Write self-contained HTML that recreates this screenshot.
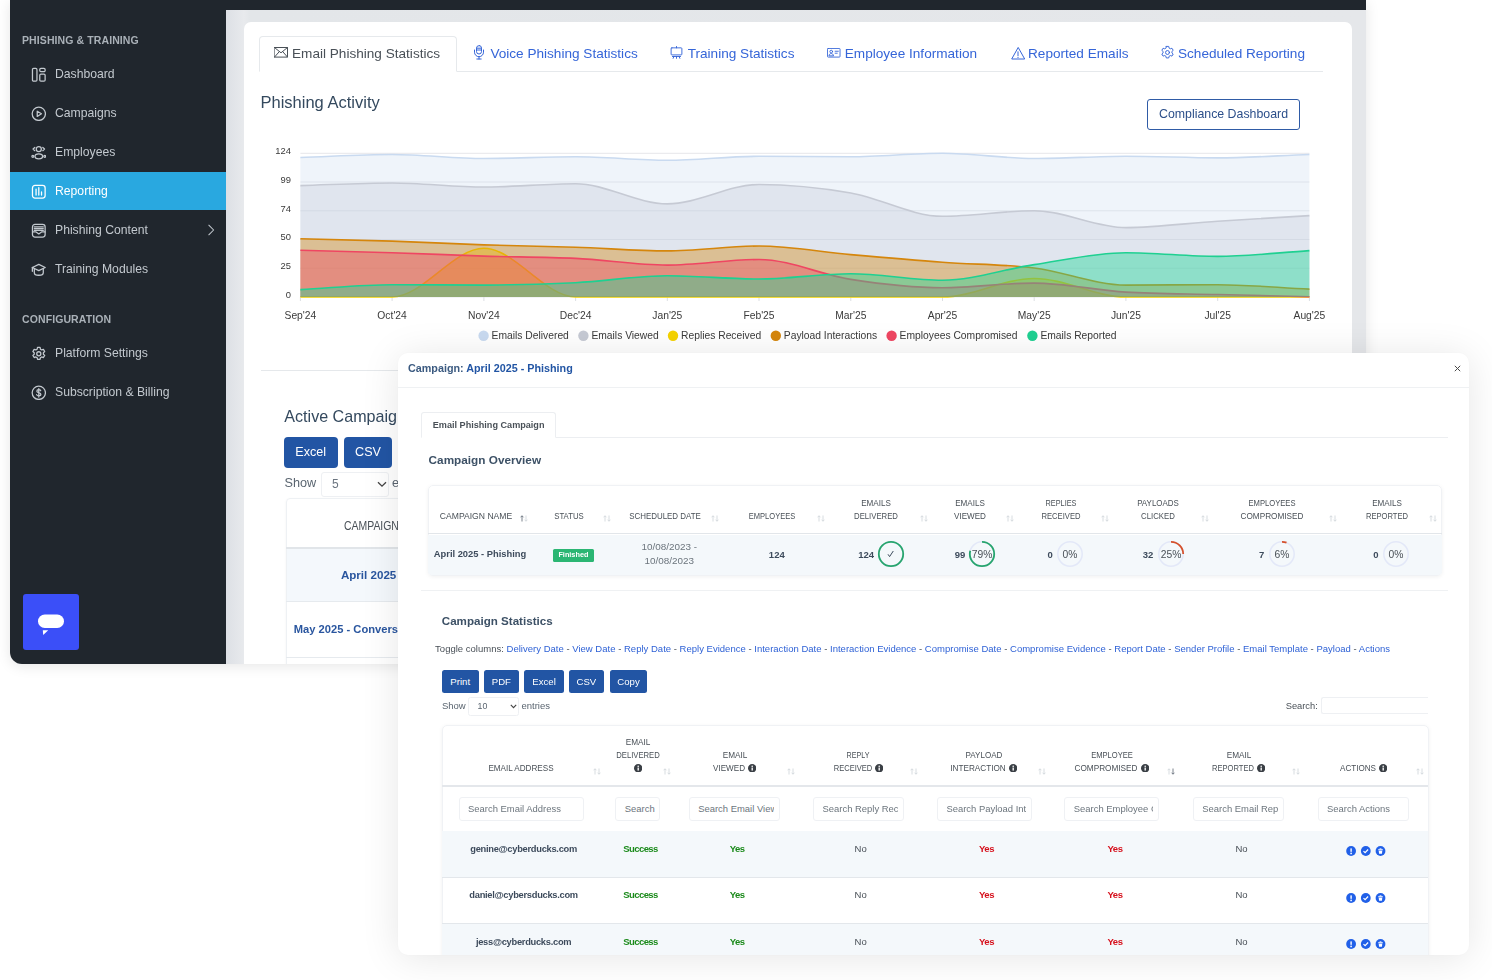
<!DOCTYPE html>
<html lang="en">
<head>
<meta charset="utf-8">
<title>Phishing Reporting</title>
<style>
*{box-sizing:border-box;margin:0;padding:0}
html,body{width:1492px;height:980px;overflow:hidden;background:#fff;font-family:"Liberation Sans",sans-serif;color:#34495e}
.abs{position:absolute}
#dash{position:absolute;left:10px;top:0;width:1356px;height:664px;background:linear-gradient(to right,#dde0e5 216px,#e8eaed 234px,#e3e6e9 240px,#e5e7ea 1356px);border-radius:0 0 0 12px;overflow:hidden;box-shadow:0 2px 14px rgba(0,0,0,.10)}
#topbar{position:absolute;left:0;top:0;width:1356px;height:10px;background:#20262d}
#side{will-change:transform;position:absolute;left:0;top:0;width:216px;height:664px;background:#20262d}
.sh{position:absolute;left:12px;font-size:10.5px;font-weight:700;color:#aab1b8;letter-spacing:.1px;white-space:nowrap}
.ni{position:absolute;left:0;width:216px;height:39px;color:#c3c9cf;font-size:12.2px;white-space:nowrap}
.ni span{position:absolute;left:45px;top:12px;line-height:15px}
.ni svg{position:absolute;left:20.9px;top:11.7px;width:15.6px;height:15.6px;fill:none;stroke:#c3c9cf;stroke-width:1.3;stroke-linecap:round;stroke-linejoin:round}
.ni.act{background:#29a8e0;color:#fff}
.ni.act svg{stroke:#fff}
#card{will-change:transform;position:absolute;left:234px;top:22px;width:1108px;height:660px;background:#fff;border-radius:7px 7px 0 0}
#modal{position:absolute;left:398px;top:353px;width:1071px;height:602px;background:#fff;border-radius:10px;box-shadow:0 3px 38px rgba(0,0,0,.10),0 0 3px rgba(0,0,0,.03);overflow:hidden}
</style>
</head>
<body>
<div id="dash">
  <div id="card">

    <style>
    .tab{position:absolute;top:23.8px;font-size:13.6px;line-height:16px;color:#3565d8;white-space:nowrap}
    .tab svg{position:absolute;top:1px;fill:none;stroke:#3565d8;stroke-width:1;stroke-linejoin:round;stroke-linecap:round}
    .bbtn{position:absolute;background:#2255a4;color:#fff;border-radius:3px;text-align:center;white-space:nowrap}
    </style>
    <div class="abs" style="left:15px;top:49px;width:1064px;height:1px;background:#e6e9ec"></div>
    <div class="abs" style="left:15px;top:13.5px;width:198px;height:36.5px;border:1px solid #e6e9ec;border-bottom:1px solid #fff;border-radius:4px 4px 0 0;background:#fff"></div>
    <div class="tab" style="left:48px;color:#495057">Email Phishing Statistics<svg style="left:-18px;top:1.2px;stroke:#495057" width="14" height="11" viewBox="0 0 14 11"><rect x=".5" y=".5" width="13" height="9.6"/><path d="M.5.5L7 5.8 13.500.5M.500 10.100L5.300 4.600M13.500 10.100L8.700 4.600"/></svg></div>
    <div class="tab" style="left:246.39999999999998px">Voice Phishing Statistics<svg style="left:-17px;top:-.5px" width="12" height="15" viewBox="0 0 12 15"><rect x="3.500" y=".6" width="5" height="8.400" rx="2.500"/><path d="M1.500 5v2.200a4.500 4.500 0 0 0 9 0V5M6 11.700v2.300M3.800 14h4.400M4 3.200h4M4 5h4"/></svg></div>
    <div class="tab" style="left:443.70000000000005px">Training Statistics<svg style="left:-17.300px;top:.3px" width="13" height="13" viewBox="0 0 14 14"><path d="M7 .5v1.500"/><rect x="1.200" y="2" width="11.600" height="7.600" rx=".8"/><path d="M2.600 11.300h8.800M4.200 11.300l-.8 2M9.800 11.300l.8 2M7 11.300v2"/></svg></div>
    <div class="tab" style="left:600.8px">Employee Information<svg style="left:-17.8px;top:1.9px" width="13.500" height="9.900" viewBox="0 0 15 11"><rect x=".5" y=".5" width="14" height="9.600" rx=".8"/><circle cx="4.700" cy="4" r="1.500"/><path d="M2.200 8.300c.3-1.500 1.300-2.100 2.500-2.100s2.200.6 2.500 2.100zM9 3.600h3.600M9 5.800h2.400"/></svg></div>
    <div class="tab" style="left:784px">Reported Emails<svg style="left:-17.500px;top:1px" width="14" height="13" viewBox="0 0 14 13"><path d="M7 .8L.7 12h12.600z"/><path d="M7 4.800v3.800M7 10.200v.4"/></svg></div>
    <div class="tab" style="left:934px">Scheduled Reporting<svg style="left:-18px;top:-.5px" width="15" height="15" viewBox="0 0 16 16" ><path d="M6.700 1.500h2.600l.4 1.800 1.300.75 1.750-.6 1.300 2.250-1.350 1.200v1.500l1.350 1.200-1.300 2.250-1.750-.6-1.300.75-.4 1.800H6.700l-.4-1.800-1.300-.75-1.750.6-1.300-2.250 1.350-1.200v-1.500L1.950 5.700l1.300-2.250 1.750.6 1.300-.75z"/><circle cx="8" cy="8" r="2.100"/></svg></div>
    <div class="abs" style="left:16.5px;top:70px;font-size:16.5px;line-height:20px;color:#34495e;white-space:nowrap">Phishing Activity</div>
    <div class="abs" style="left:903px;top:77px;width:153px;height:31px;border:1px solid #2f5ba6;border-radius:3px;font-size:12.35px;line-height:29px;text-align:center;color:#2c4f8a;white-space:nowrap">Compliance Dashboard</div>
<svg class="abs" style="left:0;top:0" width="1108" height="340" viewBox="0 0 1108 340" font-family="Liberation Sans, sans-serif">
<line x1="56.4" x2="1065.4" y1="275.0" y2="275.0" stroke="#e6e7ea" stroke-width="1"/>
<text x="46.9" y="275.9" font-size="9.4" fill="#3a3a3a" text-anchor="end">0</text>
<line x1="56.4" x2="1065.4" y1="246.3" y2="246.3" stroke="#e6e7ea" stroke-width="1"/>
<text x="46.9" y="247.2" font-size="9.4" fill="#3a3a3a" text-anchor="end">25</text>
<line x1="56.4" x2="1065.4" y1="217.5" y2="217.5" stroke="#e6e7ea" stroke-width="1"/>
<text x="46.9" y="218.4" font-size="9.4" fill="#3a3a3a" text-anchor="end">50</text>
<line x1="56.4" x2="1065.4" y1="188.8" y2="188.8" stroke="#e6e7ea" stroke-width="1"/>
<text x="46.9" y="189.7" font-size="9.4" fill="#3a3a3a" text-anchor="end">74</text>
<line x1="56.4" x2="1065.4" y1="160.0" y2="160.0" stroke="#e6e7ea" stroke-width="1"/>
<text x="46.9" y="160.9" font-size="9.4" fill="#3a3a3a" text-anchor="end">99</text>
<line x1="56.4" x2="1065.4" y1="131.3" y2="131.3" stroke="#e6e7ea" stroke-width="1"/>
<text x="46.9" y="132.2" font-size="9.4" fill="#3a3a3a" text-anchor="end">124</text>
<line x1="56.4" x2="56.4" y1="275.0" y2="279.0" stroke="#dcdfe3" stroke-width="1"/>
<text x="56.4" y="296.8" font-size="10.3" fill="#3a3a3a" text-anchor="middle">Sep'24</text>
<line x1="148.1" x2="148.1" y1="275.0" y2="279.0" stroke="#dcdfe3" stroke-width="1"/>
<text x="148.1" y="296.8" font-size="10.3" fill="#3a3a3a" text-anchor="middle">Oct'24</text>
<line x1="239.9" x2="239.9" y1="275.0" y2="279.0" stroke="#dcdfe3" stroke-width="1"/>
<text x="239.9" y="296.8" font-size="10.3" fill="#3a3a3a" text-anchor="middle">Nov'24</text>
<line x1="331.6" x2="331.6" y1="275.0" y2="279.0" stroke="#dcdfe3" stroke-width="1"/>
<text x="331.6" y="296.8" font-size="10.3" fill="#3a3a3a" text-anchor="middle">Dec'24</text>
<line x1="423.3" x2="423.3" y1="275.0" y2="279.0" stroke="#dcdfe3" stroke-width="1"/>
<text x="423.3" y="296.8" font-size="10.3" fill="#3a3a3a" text-anchor="middle">Jan'25</text>
<line x1="515.0" x2="515.0" y1="275.0" y2="279.0" stroke="#dcdfe3" stroke-width="1"/>
<text x="515.0" y="296.8" font-size="10.3" fill="#3a3a3a" text-anchor="middle">Feb'25</text>
<line x1="606.8" x2="606.8" y1="275.0" y2="279.0" stroke="#dcdfe3" stroke-width="1"/>
<text x="606.8" y="296.8" font-size="10.3" fill="#3a3a3a" text-anchor="middle">Mar'25</text>
<line x1="698.5" x2="698.5" y1="275.0" y2="279.0" stroke="#dcdfe3" stroke-width="1"/>
<text x="698.5" y="296.8" font-size="10.3" fill="#3a3a3a" text-anchor="middle">Apr'25</text>
<line x1="790.2" x2="790.2" y1="275.0" y2="279.0" stroke="#dcdfe3" stroke-width="1"/>
<text x="790.2" y="296.8" font-size="10.3" fill="#3a3a3a" text-anchor="middle">May'25</text>
<line x1="881.9" x2="881.9" y1="275.0" y2="279.0" stroke="#dcdfe3" stroke-width="1"/>
<text x="881.9" y="296.8" font-size="10.3" fill="#3a3a3a" text-anchor="middle">Jun'25</text>
<line x1="973.7" x2="973.7" y1="275.0" y2="279.0" stroke="#dcdfe3" stroke-width="1"/>
<text x="973.7" y="296.8" font-size="10.3" fill="#3a3a3a" text-anchor="middle">Jul'25</text>
<line x1="1065.4" x2="1065.4" y1="275.0" y2="279.0" stroke="#dcdfe3" stroke-width="1"/>
<text x="1065.4" y="296.8" font-size="10.3" fill="#3a3a3a" text-anchor="middle">Aug'25</text>
<path d="M56.4 135.5C87.0 134.5 117.6 132.5 148.1 132.5C178.7 132.5 209.3 136.5 239.9 136.5C270.4 136.5 301.0 134.8 331.6 134.8C362.2 134.8 392.7 138.3 423.3 138.3C453.9 138.3 484.5 134.3 515.0 134.3C545.6 134.3 576.2 134.8 606.8 134.8C637.3 134.8 667.9 131.3 698.5 131.3C729.1 131.3 759.6 136.5 790.2 136.5C820.8 136.5 851.4 134.2 881.9 134.2C912.5 134.2 943.1 135.9 973.7 135.9C1004.2 135.9 1034.8 133.6 1065.4 132.5L1065.4 275.0L56.4 275.0Z" fill="rgba(201,218,240,0.30)"/>
<path d="M56.4 135.5C87.0 134.5 117.6 132.5 148.1 132.5C178.7 132.5 209.3 136.5 239.9 136.5C270.4 136.5 301.0 134.8 331.6 134.8C362.2 134.8 392.7 138.3 423.3 138.3C453.9 138.3 484.5 134.3 515.0 134.3C545.6 134.3 576.2 134.8 606.8 134.8C637.3 134.8 667.9 131.3 698.5 131.3C729.1 131.3 759.6 136.5 790.2 136.5C820.8 136.5 851.4 134.2 881.9 134.2C912.5 134.2 943.1 135.9 973.7 135.9C1004.2 135.9 1034.8 133.6 1065.4 132.5" fill="none" stroke="#c9daf0" stroke-width="1.6"/>
<path d="M56.4 163.6C87.0 162.7 117.6 161.0 148.1 161.0C178.7 161.0 209.3 165.0 239.9 165.0C270.4 165.0 301.0 161.7 331.6 161.7C362.2 161.7 392.7 181.9 423.3 181.9C453.9 181.9 484.5 162.5 515.0 162.5C545.6 162.5 576.2 165.7 606.8 171.0C637.3 176.4 667.9 194.3 698.5 194.3C729.1 194.3 759.6 188.7 790.2 188.7C820.8 188.7 851.4 205.6 881.9 205.6C912.5 205.6 943.1 201.2 973.7 199.2C1004.2 197.2 1034.8 195.5 1065.4 193.6L1065.4 275.0L56.4 275.0Z" fill="rgba(196,203,216,0.36)"/>
<path d="M56.4 163.6C87.0 162.7 117.6 161.0 148.1 161.0C178.7 161.0 209.3 165.0 239.9 165.0C270.4 165.0 301.0 161.7 331.6 161.7C362.2 161.7 392.7 181.9 423.3 181.9C453.9 181.9 484.5 162.5 515.0 162.5C545.6 162.5 576.2 165.7 606.8 171.0C637.3 176.4 667.9 194.3 698.5 194.3C729.1 194.3 759.6 188.7 790.2 188.7C820.8 188.7 851.4 205.6 881.9 205.6C912.5 205.6 943.1 201.2 973.7 199.2C1004.2 197.2 1034.8 195.5 1065.4 193.6" fill="none" stroke="#c6cad4" stroke-width="1.6"/>
<path d="M56.4 275.0C87.0 275.0 117.6 275.0 148.1 275.0C178.7 275.0 209.3 226.3 239.9 226.3C270.4 226.3 301.0 275.0 331.6 275.0C362.2 275.0 392.7 275.0 423.3 275.0C453.9 275.0 484.5 275.0 515.0 275.0C545.6 275.0 576.2 275.0 606.8 275.0C637.3 275.0 667.9 275.0 698.5 275.0C729.1 275.0 759.6 256.5 790.2 256.5C820.8 256.5 851.4 275.0 881.9 275.0C912.5 275.0 943.1 275.0 973.7 275.0C1004.2 275.0 1034.8 275.0 1065.4 275.0L1065.4 275.0L56.4 275.0Z" fill="rgba(245,211,0,0.40)"/>
<path d="M56.4 275.0C87.0 275.0 117.6 275.0 148.1 275.0C178.7 275.0 209.3 226.3 239.9 226.3C270.4 226.3 301.0 275.0 331.6 275.0C362.2 275.0 392.7 275.0 423.3 275.0C453.9 275.0 484.5 275.0 515.0 275.0C545.6 275.0 576.2 275.0 606.8 275.0C637.3 275.0 667.9 275.0 698.5 275.0C729.1 275.0 759.6 256.5 790.2 256.5C820.8 256.5 851.4 275.0 881.9 275.0C912.5 275.0 943.1 275.0 973.7 275.0C1004.2 275.0 1034.8 275.0 1065.4 275.0" fill="none" stroke="#f5d300" stroke-width="1.6"/>
<path d="M56.4 216.8C87.0 217.6 117.6 218.1 148.1 219.1C178.7 220.1 209.3 221.8 239.9 222.9C270.4 223.9 301.0 224.2 331.6 225.2C362.2 226.2 392.7 228.9 423.3 228.9C453.9 228.9 484.5 224.0 515.0 224.0C545.6 224.0 576.2 229.9 606.8 232.6C637.3 235.3 667.9 238.0 698.5 240.2C729.1 242.5 759.6 242.2 790.2 246.0C820.8 249.8 851.4 263.1 881.9 263.1C912.5 263.1 943.1 262.7 973.7 262.7C1004.2 262.7 1034.8 265.7 1065.4 267.1L1065.4 275.0L56.4 275.0Z" fill="rgba(213,134,12,0.40)"/>
<path d="M56.4 216.8C87.0 217.6 117.6 218.1 148.1 219.1C178.7 220.1 209.3 221.8 239.9 222.9C270.4 223.9 301.0 224.2 331.6 225.2C362.2 226.2 392.7 228.9 423.3 228.9C453.9 228.9 484.5 224.0 515.0 224.0C545.6 224.0 576.2 229.9 606.8 232.6C637.3 235.3 667.9 238.0 698.5 240.2C729.1 242.5 759.6 242.2 790.2 246.0C820.8 249.8 851.4 263.1 881.9 263.1C912.5 263.1 943.1 262.7 973.7 262.7C1004.2 262.7 1034.8 265.7 1065.4 267.1" fill="none" stroke="#d5860c" stroke-width="1.6"/>
<path d="M56.4 228.2C87.0 229.0 117.6 229.7 148.1 230.7C178.7 231.7 209.3 233.1 239.9 234.1C270.4 235.0 301.0 234.9 331.6 236.4C362.2 237.9 392.7 243.1 423.3 243.1C453.9 243.1 484.5 237.5 515.0 237.5C545.6 237.5 576.2 252.7 606.8 257.4C637.3 262.1 667.9 265.7 698.5 265.7C729.1 265.7 759.6 261.1 790.2 261.1C820.8 261.1 851.4 268.2 881.9 270.1C912.5 272.0 943.1 271.7 973.7 272.5C1004.2 273.2 1034.8 273.9 1065.4 274.7L1065.4 275.0L56.4 275.0Z" fill="rgba(239,70,98,0.40)"/>
<path d="M56.4 228.2C87.0 229.0 117.6 229.7 148.1 230.7C178.7 231.7 209.3 233.1 239.9 234.1C270.4 235.0 301.0 234.9 331.6 236.4C362.2 237.9 392.7 243.1 423.3 243.1C453.9 243.1 484.5 237.5 515.0 237.5C545.6 237.5 576.2 252.7 606.8 257.4C637.3 262.1 667.9 265.7 698.5 265.7C729.1 265.7 759.6 261.1 790.2 261.1C820.8 261.1 851.4 268.2 881.9 270.1C912.5 272.0 943.1 271.7 973.7 272.5C1004.2 273.2 1034.8 273.9 1065.4 274.7" fill="none" stroke="#ef4662" stroke-width="1.6"/>
<path d="M56.4 267.6C87.0 266.0 117.6 262.7 148.1 262.7C178.7 262.7 209.3 263.1 239.9 263.1C270.4 263.1 301.0 262.3 331.6 260.7C362.2 259.2 392.7 253.7 423.3 253.7C453.9 253.7 484.5 257.0 515.0 257.0C545.6 257.0 576.2 251.8 606.8 251.8C637.3 251.8 667.9 258.2 698.5 258.2C729.1 258.2 759.6 247.1 790.2 242.6C820.8 238.0 851.4 230.7 881.9 230.7C912.5 230.7 943.1 234.4 973.7 234.4C1004.2 234.4 1034.8 230.6 1065.4 228.6L1065.4 275.0L56.4 275.0Z" fill="rgba(28,214,150,0.42)"/>
<path d="M56.4 267.6C87.0 266.0 117.6 262.7 148.1 262.7C178.7 262.7 209.3 263.1 239.9 263.1C270.4 263.1 301.0 262.3 331.6 260.7C362.2 259.2 392.7 253.7 423.3 253.7C453.9 253.7 484.5 257.0 515.0 257.0C545.6 257.0 576.2 251.8 606.8 251.8C637.3 251.8 667.9 258.2 698.5 258.2C729.1 258.2 759.6 247.1 790.2 242.6C820.8 238.0 851.4 230.7 881.9 230.7C912.5 230.7 943.1 234.4 973.7 234.4C1004.2 234.4 1034.8 230.6 1065.4 228.6" fill="none" stroke="#1fd091" stroke-width="1.6"/>
<circle cx="239.6" cy="313.7" r="5.2" fill="#c9daf0"/>
<text x="247.6" y="317.3" font-size="10.3" fill="#3a3a3a">Emails Delivered</text>
<circle cx="339.4" cy="313.7" r="5.2" fill="#c6cad4"/>
<text x="347.4" y="317.3" font-size="10.3" fill="#3a3a3a">Emails Viewed</text>
<circle cx="429.0" cy="313.7" r="5.2" fill="#f5d300"/>
<text x="437.0" y="317.3" font-size="10.3" fill="#3a3a3a">Replies Received</text>
<circle cx="531.8" cy="313.7" r="5.2" fill="#d5860c"/>
<text x="539.8" y="317.3" font-size="10.3" fill="#3a3a3a">Payload Interactions</text>
<circle cx="647.6" cy="313.7" r="5.2" fill="#ef4662"/>
<text x="655.6" y="317.3" font-size="10.3" fill="#3a3a3a">Employees Compromised</text>
<circle cx="788.4" cy="313.7" r="5.2" fill="#1fd091"/>
<text x="796.4" y="317.3" font-size="10.3" fill="#3a3a3a">Emails Reported</text>
</svg>
    <div class="abs" style="left:17px;top:348px;width:1062px;height:1px;background:#e5e8eb"></div>
    <div class="abs" style="left:40.30000000000001px;top:384.4px;font-size:16.1px;line-height:20px;color:#34495e;white-space:nowrap">Active Campaigns</div>
    <div class="bbtn" style="left:40px;top:415px;width:53.500px;height:30.500px;font-size:12.6px;line-height:30px;border-radius:4px">Excel</div>
    <div class="bbtn" style="left:100px;top:415px;width:48px;height:30.500px;font-size:12.6px;line-height:30px;border-radius:4px">CSV</div>
    <div class="abs" style="left:40.5px;top:453.3px;font-size:12.7px;line-height:16px;color:#5a6570">Show</div>
    <div class="abs" style="left:77px;top:449.5px;width:67.500px;height:25px;border:1px solid #eef0f3;border-radius:3px;font-size:12px;line-height:23px;color:#6b7580;padding-left:10px">5<svg class="abs" style="left:55px;top:8.500px" width="10" height="7" viewBox="0 0 10 7"><path d="M1 1.200l4 4 4-4" fill="none" stroke="#444" stroke-width="1.300"/></svg></div>
    <div class="abs" style="left:148px;top:453.3px;font-size:12.7px;line-height:16px;color:#5a6570">entries</div>
    <div class="abs" style="left:42px;top:476px;width:900px;height:170px;border:1px solid #eef1f4;border-radius:4px;box-shadow:0 1px 3px rgba(0,0,0,.05)"></div>
    <div class="abs" style="left:99.80000000000001px;top:496.79999999999995px;font-size:12px;line-height:15px;color:#495057;white-space:nowrap;transform:scaleX(.87);transform-origin:0 50%">CAMPAIGN NAME</div>
    <div class="abs" style="left:42px;top:525px;width:900px;height:1.500px;background:#e1e5e9"></div>
    <div class="abs" style="left:42.5px;top:526.5px;width:900px;height:52.500px;background:#f4f8fc"></div>
    <div class="abs" style="left:42px;top:579px;width:900px;height:1px;background:#e6eaee"></div>
    <div class="abs" style="left:42px;top:635px;width:900px;height:1px;background:#e6eaee"></div>
    <div class="abs" style="left:96.89999999999998px;top:545.4px;font-size:11.6px;font-weight:700;line-height:15px;color:#2a569f;white-space:nowrap">April 2025 - Phishing</div>
    <div class="abs" style="left:49.80000000000001px;top:599.9px;font-size:11.16px;font-weight:700;line-height:15px;color:#2a569f;white-space:nowrap">May 2025 - Conversation</div>
  </div>
  <div id="topbar"></div>
  <div id="side">

    <div class="sh" style="top:34px">PHISHING &amp; TRAINING</div>
    <div class="ni" style="top:55px"><svg viewBox="0 0 16 16"><rect x="1.5" y="1.5" width="4.6" height="13" rx="1.2"/><rect x="9" y="1.5" width="5.5" height="3.2" rx="1.2"/><rect x="9" y="7.3" width="5.5" height="7.2" rx="1.2"/></svg><span>Dashboard</span></div>
    <div class="ni" style="top:94px"><svg viewBox="0 0 16 16"><circle cx="8" cy="8" r="6.8"/><path d="M6.4 5.3v5.4l4.3-2.7z"/></svg><span>Campaigns</span></div>
    <div class="ni" style="top:133px"><svg viewBox="0 0 16 16"><circle cx="8" cy="4.2" r="2.6"/><ellipse cx="8" cy="11.6" rx="3.9" ry="2.6"/><path d="M3.9 2.6L2.1 4.2l1.8 1.6M12.1 2.6l1.8 1.6-1.8 1.6"/><circle cx="1.9" cy="11.6" r="1"/><circle cx="14.1" cy="11.6" r="1"/></svg><span>Employees</span></div>
    <div class="ni act" style="top:172px;height:38px"><svg viewBox="0 0 16 16"><rect x="1.5" y="1.5" width="13" height="13" rx="2.6"/><path d="M5.2 5.2v6.2M8 3.8v7.6M10.8 8.2v3.2"/></svg><span>Reporting</span></div>
    <div class="ni" style="top:211px"><svg viewBox="0 0 16 16"><rect x="1.5" y="1.5" width="13" height="13" rx="2.6"/><path d="M3.4 4h9.2M3.4 5.8h9.2M3.4 7.6h9.2M1.6 9.2h3.6l2.8 2 2.8-2h3.6"/></svg><span>Phishing Content</span><svg viewBox="0 0 16 16" style="left:194px;top:12px;width:14px;height:14px;stroke-width:1.2"><path d="M5.5 2.5L11 8l-5.500 5.500"/></svg></div>
    <div class="ni" style="top:250px"><svg viewBox="0 0 16 16"><path d="M8 2.400L1.400 5.600 8 8.800l6.600-3.200z"/><path d="M3.400 6.800v4.200c0 1.400 2.100 2.600 4.600 2.600s4.600-1.200 4.600-2.600V6.800"/><path d="M1.400 5.600v4"/></svg><span>Training Modules</span></div>
    <div class="sh" style="top:313px">CONFIGURATION</div>
    <div class="ni" style="top:334px"><svg viewBox="0 0 16 16"><path d="M6.700 1.500h2.600l.4 1.800 1.300.75 1.750-.6 1.300 2.250-1.350 1.200v1.500l1.350 1.200-1.300 2.250-1.750-.6-1.300.75-.4 1.800H6.700l-.4-1.800-1.300-.75-1.750.6-1.300-2.250 1.350-1.200v-1.500L1.950 5.700l1.300-2.250 1.750.6 1.300-.75z"/><circle cx="8" cy="8" r="2.100"/></svg><span>Platform Settings</span></div>
    <div class="ni" style="top:373px"><svg viewBox="0 0 16 16"><circle cx="8" cy="8" r="6.800"/><path d="M10 5.900c-.3-.7-1-1.100-2-1.100-1.200 0-2 .6-2 1.500 0 2.100 4.100 1 4.100 3.300 0 .9-.9 1.600-2.100 1.600-1.100 0-1.900-.5-2.200-1.300M8 3.600v8.800"/></svg><span>Subscription &amp; Billing</span></div>
    <div class="abs" style="left:13px;top:594px;width:56px;height:56px;background:#3b4ff8;border-radius:3px">
      <svg class="abs" style="left:0;top:0" width="56" height="56" viewBox="0 0 56 56"><rect x="15" y="20.500" width="26" height="13.500" rx="6.750" fill="#fff"/><path d="M19.800 36.300h5.400l-5 4.800z" fill="#fff"/></svg>
    </div>

  </div>
</div>
<div id="modal">
<style>
.t{position:absolute;white-space:nowrap}
.mb{position:absolute;background:#2255a4;color:#fff;border-radius:2.5px;text-align:center;white-space:nowrap;font-size:9.6px;line-height:23px;height:23px;top:317.2px}
.si{position:absolute;height:24px;border:1px solid #eff1f4;border-radius:3px;background:#fff;padding:0 5px 0 8.5px;top:443.5px}
.si i{display:block;font-style:normal;overflow:hidden;white-space:nowrap;font-size:9.45px;line-height:22px;color:#6c757d}
a{color:#2f62d6;text-decoration:none}
</style>
<div class="t" style="top:8.2px;font-size:10.77px;line-height:14px;color:#3d4b5c;font-weight:700;left:10px;"><span style="color:#3b5a80">Campaign:</span> <span style="color:#2255a4">April 2025 - Phishing</span></div>
<svg class="abs" style="left:1055.5px;top:11.5px" width="7" height="7" viewBox="0 0 7 7"><path d="M.800.800l5.400 5.400M6.200.800L.800 6.200" stroke="#4a4a4a" stroke-width="1" fill="none"/></svg>
<div class="abs" style="left:0px;top:34px;width:1071px;height:1px;background:#eff1f3"></div>
<div class="abs" style="left:23px;top:84px;width:1027px;height:1px;background:#eceef1"></div>
<div class="abs" style="left:23px;top:59px;width:135px;height:26px;border:1px solid #eceef1;border-bottom:1px solid #fff;border-radius:3px 3px 0 0;background:#fff"></div>
<div class="t" style="top:64.8px;font-size:9.1px;line-height:14px;color:#495057;font-weight:700;left:34.8px;">Email Phishing Campaign</div>
<div class="t" style="top:99.2px;font-size:11.78px;line-height:16px;color:#3d5166;font-weight:700;left:30.6px;">Campaign Overview</div>
<div class="abs" style="left:29.5px;top:132px;width:1014.5px;height:90.5px;border:1px solid #f0f2f5;border-radius:5px;box-shadow:0 1px 4px rgba(0,0,0,.06)"></div>
<div class="abs" style="left:30px;top:181.5px;width:1013.5px;height:40.5px;background:#f4f8fb;border-radius:0 0 4px 4px"></div>
<div class="abs" style="left:30px;top:179.8px;width:1013.5px;height:1.7px;background:#e2e6ea"></div>
<div class="t" style="top:156.3px;font-size:9.7px;line-height:14px;color:#495057;left:77.5px;transform:translateX(-50%) scaleX(0.887);">CAMPAIGN NAME</div>
<svg class="abs" style="left:121.7px;top:162.1px" width="8" height="7" viewBox="0 0 8 7" fill="none" stroke-width=".9"><path d="M2 6.500V.8M.500 2.300L2 .800l1.500 1.500" stroke="#6b7480"/><path d="M6 .500v5.700M4.500 4.700L6 6.200l1.500-1.500" stroke="#d3d8dd"/></svg>
<div class="t" style="top:156.3px;font-size:9.7px;line-height:14px;color:#495057;left:170.8px;transform:translateX(-50%) scaleX(0.805);">STATUS</div>
<svg class="abs" style="left:204.7px;top:162.1px" width="8" height="7" viewBox="0 0 8 7" fill="none" stroke-width=".9"><path d="M2 6.500V.8M.500 2.300L2 .800l1.500 1.500" stroke="#d3d8dd"/><path d="M6 .500v5.700M4.500 4.700L6 6.200l1.500-1.500" stroke="#d3d8dd"/></svg>
<div class="t" style="top:156.3px;font-size:9.7px;line-height:14px;color:#495057;left:266.5px;transform:translateX(-50%) scaleX(0.819);">SCHEDULED DATE</div>
<svg class="abs" style="left:313.3px;top:162.1px" width="8" height="7" viewBox="0 0 8 7" fill="none" stroke-width=".9"><path d="M2 6.500V.8M.500 2.300L2 .800l1.500 1.500" stroke="#d3d8dd"/><path d="M6 .500v5.700M4.500 4.700L6 6.200l1.500-1.500" stroke="#d3d8dd"/></svg>
<div class="t" style="top:156.3px;font-size:9.7px;line-height:14px;color:#495057;left:374px;transform:translateX(-50%) scaleX(0.776);">EMPLOYEES</div>
<svg class="abs" style="left:419.4px;top:162.1px" width="8" height="7" viewBox="0 0 8 7" fill="none" stroke-width=".9"><path d="M2 6.500V.8M.500 2.300L2 .800l1.500 1.500" stroke="#d3d8dd"/><path d="M6 .500v5.700M4.500 4.700L6 6.200l1.500-1.500" stroke="#d3d8dd"/></svg>
<div class="t" style="top:143px;font-size:9.7px;line-height:14px;color:#495057;left:478.3px;transform:translateX(-50%) scaleX(0.836);">EMAILS</div>
<div class="t" style="top:156.3px;font-size:9.7px;line-height:14px;color:#495057;left:478.3px;transform:translateX(-50%) scaleX(0.799);">DELIVERED</div>
<svg class="abs" style="left:522px;top:162.1px" width="8" height="7" viewBox="0 0 8 7" fill="none" stroke-width=".9"><path d="M2 6.500V.8M.500 2.300L2 .800l1.500 1.500" stroke="#d3d8dd"/><path d="M6 .500v5.700M4.500 4.700L6 6.200l1.500-1.500" stroke="#d3d8dd"/></svg>
<div class="t" style="top:143px;font-size:9.7px;line-height:14px;color:#495057;left:572.4px;transform:translateX(-50%) scaleX(0.836);">EMAILS</div>
<div class="t" style="top:156.3px;font-size:9.7px;line-height:14px;color:#495057;left:572.4px;transform:translateX(-50%) scaleX(0.835);">VIEWED</div>
<svg class="abs" style="left:607.6px;top:162.1px" width="8" height="7" viewBox="0 0 8 7" fill="none" stroke-width=".9"><path d="M2 6.500V.8M.500 2.300L2 .800l1.500 1.500" stroke="#d3d8dd"/><path d="M6 .500v5.700M4.500 4.700L6 6.200l1.500-1.500" stroke="#d3d8dd"/></svg>
<div class="t" style="top:143px;font-size:9.7px;line-height:14px;color:#495057;left:662.8px;transform:translateX(-50%) scaleX(0.755);">REPLIES</div>
<div class="t" style="top:156.3px;font-size:9.7px;line-height:14px;color:#495057;left:662.8px;transform:translateX(-50%) scaleX(0.789);">RECEIVED</div>
<svg class="abs" style="left:702.9px;top:162.1px" width="8" height="7" viewBox="0 0 8 7" fill="none" stroke-width=".9"><path d="M2 6.500V.8M.500 2.300L2 .800l1.500 1.500" stroke="#d3d8dd"/><path d="M6 .500v5.700M4.500 4.700L6 6.200l1.500-1.500" stroke="#d3d8dd"/></svg>
<div class="t" style="top:143px;font-size:9.7px;line-height:14px;color:#495057;left:760.3px;transform:translateX(-50%) scaleX(0.821);">PAYLOADS</div>
<div class="t" style="top:156.3px;font-size:9.7px;line-height:14px;color:#495057;left:760.3px;transform:translateX(-50%) scaleX(0.805);">CLICKED</div>
<svg class="abs" style="left:802.5px;top:162.1px" width="8" height="7" viewBox="0 0 8 7" fill="none" stroke-width=".9"><path d="M2 6.500V.8M.500 2.300L2 .800l1.500 1.500" stroke="#d3d8dd"/><path d="M6 .500v5.700M4.500 4.700L6 6.200l1.500-1.500" stroke="#d3d8dd"/></svg>
<div class="t" style="top:143px;font-size:9.7px;line-height:14px;color:#495057;left:874.2px;transform:translateX(-50%) scaleX(0.788);">EMPLOYEES</div>
<div class="t" style="top:156.3px;font-size:9.7px;line-height:14px;color:#495057;left:874.2px;transform:translateX(-50%) scaleX(0.848);">COMPROMISED</div>
<svg class="abs" style="left:930.9px;top:162.1px" width="8" height="7" viewBox="0 0 8 7" fill="none" stroke-width=".9"><path d="M2 6.500V.8M.500 2.300L2 .800l1.500 1.500" stroke="#d3d8dd"/><path d="M6 .500v5.700M4.500 4.700L6 6.200l1.500-1.500" stroke="#d3d8dd"/></svg>
<div class="t" style="top:143px;font-size:9.7px;line-height:14px;color:#495057;left:988.7px;transform:translateX(-50%) scaleX(0.836);">EMAILS</div>
<div class="t" style="top:156.3px;font-size:9.7px;line-height:14px;color:#495057;left:988.7px;transform:translateX(-50%) scaleX(0.783);">REPORTED</div>
<svg class="abs" style="left:1031px;top:162.1px" width="8" height="7" viewBox="0 0 8 7" fill="none" stroke-width=".9"><path d="M2 6.500V.8M.500 2.300L2 .800l1.500 1.500" stroke="#d3d8dd"/><path d="M6 .500v5.700M4.500 4.700L6 6.200l1.500-1.500" stroke="#d3d8dd"/></svg>
<div class="t" style="top:194.3px;font-size:9.36px;line-height:14px;color:#3d4b5c;font-weight:700;left:35.8px;">April 2025 - Phishing</div>
<div class="abs" style="left:155px;top:195.5px;width:40.7px;height:13.5px;background:#2bb673;border-radius:1.5px"></div>
<div class="t" style="top:197.3px;font-size:7.3px;line-height:10px;color:#fff;font-weight:700;left:175.4px;transform:translateX(-50%);">Finished</div>
<div class="t" style="top:186.9px;font-size:9.9px;line-height:14px;color:#6c757d;left:271.3px;transform:translateX(-50%);">10/08/2023 -</div>
<div class="t" style="top:201.3px;font-size:9.9px;line-height:14px;color:#6c757d;left:271.3px;transform:translateX(-50%);">10/08/2023</div>
<div class="t" style="top:195px;font-size:9.5px;line-height:14px;color:#3d4b5c;font-weight:700;left:378.8px;transform:translateX(-50%);">124</div>
<div class="t" style="top:195px;font-size:9.5px;line-height:14px;color:#3d4b5c;font-weight:700;right:595px;">124</div>
<svg class="abs" style="left:479px;top:186.6px" width="28" height="28" viewBox="0 0 28 28" font-family="Liberation Sans, sans-serif"><circle cx="14" cy="14" r="12.2" fill="none" stroke="#e3e8f8" stroke-width="1.500"/><circle cx="14" cy="14" r="12.2" fill="none" stroke="#27a56e" stroke-width="1.800" stroke-dasharray="76.65 76.65" transform="rotate(-90 14 14)"/><path d="M11 14.300l1.600 2.300 3.700-5.600" fill="none" stroke="#3d4b5c" stroke-width="1"/></svg>
<div class="t" style="top:195px;font-size:9.5px;line-height:14px;color:#3d4b5c;font-weight:700;right:503.7px;">99</div>
<svg class="abs" style="left:570.4px;top:186.6px" width="28" height="28" viewBox="0 0 28 28" font-family="Liberation Sans, sans-serif"><circle cx="14" cy="14" r="12.2" fill="none" stroke="#e3e8f8" stroke-width="1.500"/><circle cx="14" cy="14" r="12.2" fill="none" stroke="#27a56e" stroke-width="1.800" stroke-dasharray="60.56 76.65" transform="rotate(-90 14 14)"/><text x="14" y="17.700" font-size="10.300" fill="#495057" text-anchor="middle">79%</text></svg>
<div class="t" style="top:195px;font-size:9.5px;line-height:14px;color:#3d4b5c;font-weight:700;right:416.1px;">0</div>
<svg class="abs" style="left:657.9px;top:186.6px" width="28" height="28" viewBox="0 0 28 28" font-family="Liberation Sans, sans-serif"><circle cx="14" cy="14" r="12.2" fill="none" stroke="#e3e8f8" stroke-width="1.500"/><text x="14" y="17.700" font-size="10.300" fill="#495057" text-anchor="middle">0%</text></svg>
<div class="t" style="top:195px;font-size:9.5px;line-height:14px;color:#3d4b5c;font-weight:700;right:315.8px;">32</div>
<svg class="abs" style="left:758.8px;top:186.6px" width="28" height="28" viewBox="0 0 28 28" font-family="Liberation Sans, sans-serif"><circle cx="14" cy="14" r="12.2" fill="none" stroke="#e3e8f8" stroke-width="1.500"/><circle cx="14" cy="14" r="12.2" fill="none" stroke="#d5502b" stroke-width="1.800" stroke-dasharray="19.16 76.65" transform="rotate(-90 14 14)"/><text x="14" y="17.700" font-size="10.300" fill="#495057" text-anchor="middle">25%</text></svg>
<div class="t" style="top:195px;font-size:9.5px;line-height:14px;color:#3d4b5c;font-weight:700;right:204.8px;">7</div>
<svg class="abs" style="left:869.6px;top:186.6px" width="28" height="28" viewBox="0 0 28 28" font-family="Liberation Sans, sans-serif"><circle cx="14" cy="14" r="12.2" fill="none" stroke="#e3e8f8" stroke-width="1.500"/><circle cx="14" cy="14" r="12.2" fill="none" stroke="#d5502b" stroke-width="1.800" stroke-dasharray="4.60 76.65" transform="rotate(-90 14 14)"/><text x="14" y="17.700" font-size="10.300" fill="#495057" text-anchor="middle">6%</text></svg>
<div class="t" style="top:195px;font-size:9.5px;line-height:14px;color:#3d4b5c;font-weight:700;right:90.4px;">0</div>
<svg class="abs" style="left:983.9px;top:186.6px" width="28" height="28" viewBox="0 0 28 28" font-family="Liberation Sans, sans-serif"><circle cx="14" cy="14" r="12.2" fill="none" stroke="#e3e8f8" stroke-width="1.500"/><text x="14" y="17.700" font-size="10.300" fill="#495057" text-anchor="middle">0%</text></svg>
<div class="abs" style="left:23px;top:237px;width:1027px;height:1px;background:#eff1f3"></div>
<div class="t" style="top:260.1px;font-size:11.6px;line-height:16px;color:#3d5166;font-weight:700;left:43.8px;">Campaign Statistics</div>
<div class="t" style="top:289px;font-size:9.5px;line-height:14px;color:#495057;left:37.1px;letter-spacing:.012px;">Toggle columns: <a>Delivery Date</a> - <a>View Date</a> - <a>Reply Date</a> - <a>Reply Evidence</a> - <a>Interaction Date</a> - <a>Interaction Evidence</a> - <a>Compromise Date</a> - <a>Compromise Evidence</a> - <a>Report Date</a> - <a>Sender Profile</a> - <a>Email Template</a> - <a>Payload</a> - <a>Actions</a></div>
<div class="mb" style="left:43.9px;width:36.7px">Print</div>
<div class="mb" style="left:86.1px;width:34.5px">PDF</div>
<div class="mb" style="left:126.4px;width:39.4px">Excel</div>
<div class="mb" style="left:171px;width:34.8px">CSV</div>
<div class="mb" style="left:211.6px;width:37.9px">Copy</div>
<div class="t" style="top:346.2px;font-size:9.5px;line-height:14px;color:#5a6570;left:43.9px;">Show</div>
<div class="abs" style="left:70.4px;top:343.5px;width:50.2px;height:19px;border:1px solid #eef0f3;border-radius:2.5px"></div>
<div class="t" style="top:346.2px;font-size:8.8px;line-height:14px;color:#5a6570;left:79.6px;">10</div>
<svg class="abs" style="left:112.2px;top:351px" width="7" height="5" viewBox="0 0 7 5"><path d="M.800.800L3.500 3.600 6.200.800" fill="none" stroke="#444" stroke-width="1.100"/></svg>
<div class="t" style="top:346.2px;font-size:9.5px;line-height:14px;color:#5a6570;left:123.5px;">entries</div>
<div class="t" style="top:345.7px;font-size:9.3px;line-height:14px;color:#495057;left:887.7px;">Search:</div>
<div class="abs" style="left:922.7px;top:343.8px;width:107.3px;height:17.5px;border:1px solid #eef0f3;border-right:0;border-radius:2.5px 0 0 2.5px"></div>
<div class="abs" style="left:43.5px;top:371.5px;width:987px;height:240px;border:1px solid #f0f2f5;border-radius:5px;box-shadow:0 1px 4px rgba(0,0,0,.06)"></div>
<div class="abs" style="left:44px;top:431.8px;width:986px;height:1.8px;background:#e4e7eb"></div>
<div class="t" style="top:408.1px;font-size:9.7px;line-height:14px;color:#495057;left:123px;transform:translateX(-50%) scaleX(0.839);">EMAIL ADDRESS</div>
<svg class="abs" style="left:195.4px;top:414.7px" width="8" height="7" viewBox="0 0 8 7" fill="none" stroke-width=".9"><path d="M2 6.500V.8M.500 2.300L2 .800l1.500 1.500" stroke="#d3d8dd"/><path d="M6 .500v5.700M4.500 4.700L6 6.200l1.500-1.500" stroke="#d3d8dd"/></svg>
<div class="t" style="top:382.3px;font-size:9.7px;line-height:14px;color:#495057;left:239.9px;transform:translateX(-50%) scaleX(0.849);">EMAIL</div>
<div class="t" style="top:394.8px;font-size:9.7px;line-height:14px;color:#495057;left:240px;transform:translateX(-50%) scaleX(0.792);">DELIVERED</div>
<svg class="abs" style="left:235.8px;top:410.9px" width="8.400" height="8.400" viewBox="0 0 10 10"><circle cx="5" cy="5" r="5" fill="#3a3f45"/><rect x="4.200" y="4.200" width="1.600" height="3.600" fill="#fff"/><circle cx="5" cy="2.700" r=".95" fill="#fff"/></svg>
<svg class="abs" style="left:265.4px;top:414.7px" width="8" height="7" viewBox="0 0 8 7" fill="none" stroke-width=".9"><path d="M2 6.500V.8M.500 2.300L2 .800l1.500 1.500" stroke="#d3d8dd"/><path d="M6 .500v5.700M4.500 4.700L6 6.200l1.500-1.500" stroke="#d3d8dd"/></svg>
<div class="t" style="top:394.8px;font-size:9.7px;line-height:14px;color:#495057;left:336.7px;transform:translateX(-50%) scaleX(0.849);">EMAIL</div>
<div class="t" style="top:408.1px;font-size:9.7px;line-height:14px;color:#495057;left:331px;transform:translateX(-50%) scaleX(0.837);">VIEWED</div>
<svg class="abs" style="left:349.7px;top:410.9px" width="8.400" height="8.400" viewBox="0 0 10 10"><circle cx="5" cy="5" r="5" fill="#3a3f45"/><rect x="4.200" y="4.200" width="1.600" height="3.600" fill="#fff"/><circle cx="5" cy="2.700" r=".95" fill="#fff"/></svg>
<svg class="abs" style="left:388.8px;top:414.7px" width="8" height="7" viewBox="0 0 8 7" fill="none" stroke-width=".9"><path d="M2 6.500V.8M.500 2.300L2 .800l1.500 1.500" stroke="#d3d8dd"/><path d="M6 .500v5.700M4.500 4.700L6 6.200l1.500-1.500" stroke="#d3d8dd"/></svg>
<div class="t" style="top:394.8px;font-size:9.7px;line-height:14px;color:#495057;left:460.3px;transform:translateX(-50%) scaleX(0.737);">REPLY</div>
<div class="t" style="top:408.1px;font-size:9.7px;line-height:14px;color:#495057;left:454.9px;transform:translateX(-50%) scaleX(0.779);">RECEIVED</div>
<svg class="abs" style="left:476.7px;top:410.9px" width="8.400" height="8.400" viewBox="0 0 10 10"><circle cx="5" cy="5" r="5" fill="#3a3f45"/><rect x="4.200" y="4.200" width="1.600" height="3.600" fill="#fff"/><circle cx="5" cy="2.700" r=".95" fill="#fff"/></svg>
<svg class="abs" style="left:512.3px;top:414.7px" width="8" height="7" viewBox="0 0 8 7" fill="none" stroke-width=".9"><path d="M2 6.500V.8M.500 2.300L2 .800l1.500 1.500" stroke="#d3d8dd"/><path d="M6 .500v5.700M4.500 4.700L6 6.200l1.500-1.500" stroke="#d3d8dd"/></svg>
<div class="t" style="top:394.8px;font-size:9.7px;line-height:14px;color:#495057;left:585.8px;transform:translateX(-50%) scaleX(0.832);">PAYLOAD</div>
<div class="t" style="top:408.1px;font-size:9.7px;line-height:14px;color:#495057;left:580.3px;transform:translateX(-50%) scaleX(0.845);">INTERACTION</div>
<svg class="abs" style="left:610.7px;top:410.9px" width="8.400" height="8.400" viewBox="0 0 10 10"><circle cx="5" cy="5" r="5" fill="#3a3f45"/><rect x="4.200" y="4.200" width="1.600" height="3.600" fill="#fff"/><circle cx="5" cy="2.700" r=".95" fill="#fff"/></svg>
<svg class="abs" style="left:639.7px;top:414.7px" width="8" height="7" viewBox="0 0 8 7" fill="none" stroke-width=".9"><path d="M2 6.500V.8M.500 2.300L2 .800l1.500 1.500" stroke="#d3d8dd"/><path d="M6 .500v5.700M4.500 4.700L6 6.200l1.500-1.500" stroke="#d3d8dd"/></svg>
<div class="t" style="top:394.8px;font-size:9.7px;line-height:14px;color:#495057;left:714.2px;transform:translateX(-50%) scaleX(0.782);">EMPLOYEE</div>
<div class="t" style="top:408.1px;font-size:9.7px;line-height:14px;color:#495057;left:708.4px;transform:translateX(-50%) scaleX(0.848);">COMPROMISED</div>
<svg class="abs" style="left:742.8px;top:410.9px" width="8.400" height="8.400" viewBox="0 0 10 10"><circle cx="5" cy="5" r="5" fill="#3a3f45"/><rect x="4.200" y="4.200" width="1.600" height="3.600" fill="#fff"/><circle cx="5" cy="2.700" r=".95" fill="#fff"/></svg>
<svg class="abs" style="left:769.2px;top:414.7px" width="8" height="7" viewBox="0 0 8 7" fill="none" stroke-width=".9"><path d="M2 6.500V.8M.500 2.300L2 .800l1.500 1.500" stroke="#d3d8dd"/><path d="M6 .500v5.700M4.500 4.700L6 6.200l1.500-1.500" stroke="#6b7480"/></svg>
<div class="t" style="top:394.8px;font-size:9.7px;line-height:14px;color:#495057;left:841.1px;transform:translateX(-50%) scaleX(0.849);">EMAIL</div>
<div class="t" style="top:408.1px;font-size:9.7px;line-height:14px;color:#495057;left:835.2px;transform:translateX(-50%) scaleX(0.779);">REPORTED</div>
<svg class="abs" style="left:859.1px;top:410.9px" width="8.400" height="8.400" viewBox="0 0 10 10"><circle cx="5" cy="5" r="5" fill="#3a3f45"/><rect x="4.200" y="4.200" width="1.600" height="3.600" fill="#fff"/><circle cx="5" cy="2.700" r=".95" fill="#fff"/></svg>
<svg class="abs" style="left:893.7px;top:414.7px" width="8" height="7" viewBox="0 0 8 7" fill="none" stroke-width=".9"><path d="M2 6.500V.8M.500 2.300L2 .800l1.500 1.500" stroke="#d3d8dd"/><path d="M6 .500v5.700M4.500 4.700L6 6.200l1.500-1.500" stroke="#d3d8dd"/></svg>
<div class="t" style="top:408.1px;font-size:9.7px;line-height:14px;color:#495057;left:959.7px;transform:translateX(-50%) scaleX(0.836);">ACTIONS</div>
<svg class="abs" style="left:980.7px;top:410.9px" width="8.400" height="8.400" viewBox="0 0 10 10"><circle cx="5" cy="5" r="5" fill="#3a3f45"/><rect x="4.200" y="4.200" width="1.600" height="3.600" fill="#fff"/><circle cx="5" cy="2.700" r=".95" fill="#fff"/></svg>
<svg class="abs" style="left:1017.7px;top:414.7px" width="8" height="7" viewBox="0 0 8 7" fill="none" stroke-width=".9"><path d="M2 6.500V.8M.500 2.300L2 .800l1.500 1.500" stroke="#d3d8dd"/><path d="M6 .500v5.700M4.500 4.700L6 6.200l1.500-1.500" stroke="#d3d8dd"/></svg>
<div class="si" style="left:60.5px;width:125.2px"><i>Search Email Address</i></div>
<div class="si" style="left:217.3px;width:45.2px"><i style="overflow:visible">Search</i></div>
<div class="si" style="left:290.7px;width:91.3px"><i>Search Email Viewed</i></div>
<div class="si" style="left:415px;width:90.5px"><i>Search Reply Received</i></div>
<div class="si" style="left:538.9px;width:94.8px"><i>Search Payload Interaction</i></div>
<div class="si" style="left:666.3px;width:95.2px"><i>Search Employee Compromised</i></div>
<div class="si" style="left:794.8px;width:91.7px"><i>Search Email Reported</i></div>
<div class="si" style="left:919.5px;width:91px"><i>Search Actions</i></div>
<div class="abs" style="left:44px;top:478px;width:986px;height:46px;background:#f4f8fb"></div>
<div class="t" style="top:488.6px;font-size:9.3px;line-height:14px;color:#3d4b5c;font-weight:700;left:125.6px;transform:translateX(-50%);letter-spacing:-.27px;">genine@cyberducks.com</div>
<div class="t" style="top:488.6px;font-size:9.5px;line-height:14px;color:#1a8a1a;font-weight:700;left:242.5px;transform:translateX(-50%);letter-spacing:-.6px;">Success</div>
<div class="t" style="top:488.6px;font-size:9.5px;line-height:14px;color:#1a8a1a;font-weight:700;left:339.1px;transform:translateX(-50%);letter-spacing:-.5px;">Yes</div>
<div class="t" style="top:488.6px;font-size:9.5px;line-height:14px;color:#495057;left:462.7px;transform:translateX(-50%);">No</div>
<div class="t" style="top:488.6px;font-size:9.5px;line-height:14px;color:#d6101c;font-weight:700;left:588.5px;transform:translateX(-50%);letter-spacing:-.5px;">Yes</div>
<div class="t" style="top:488.6px;font-size:9.5px;line-height:14px;color:#d6101c;font-weight:700;left:717px;transform:translateX(-50%);letter-spacing:-.5px;">Yes</div>
<div class="t" style="top:488.6px;font-size:9.5px;line-height:14px;color:#495057;left:843.5px;transform:translateX(-50%);">No</div>
<svg class="abs" style="left:948px;top:492.8px" width="40" height="10" viewBox="0 0 40 10"><circle cx="5.100" cy="5" r="4.900" fill="#2160e8"/><rect x="4.400" y="2.200" width="1.400" height="3.700" rx=".6" fill="#fff"/><circle cx="5.100" cy="7.400" r=".85" fill="#fff"/><circle cx="19.800" cy="5" r="4.900" fill="#2160e8"/><path d="M17.500 5.100l1.600 1.600 3-3.200" fill="none" stroke="#fff" stroke-width="1.200"/><circle cx="34.500" cy="5" r="4.900" fill="#2160e8"/><path d="M32.200 3.300h4.600v.9h-4.600zM32.700 4.700h3.600l-.35 3.100h-2.900z" fill="#fff"/><rect x="33.600" y="2.400" width="1.800" height=".8" fill="#fff"/></svg>
<div class="abs" style="left:44px;top:524px;width:986px;height:1px;background:#e3e7eb"></div>
<div class="t" style="top:535.2px;font-size:9.3px;line-height:14px;color:#3d4b5c;font-weight:700;left:125.6px;transform:translateX(-50%);letter-spacing:-.27px;">daniel@cybersducks.com</div>
<div class="t" style="top:535.2px;font-size:9.5px;line-height:14px;color:#1a8a1a;font-weight:700;left:242.5px;transform:translateX(-50%);letter-spacing:-.6px;">Success</div>
<div class="t" style="top:535.2px;font-size:9.5px;line-height:14px;color:#1a8a1a;font-weight:700;left:339.1px;transform:translateX(-50%);letter-spacing:-.5px;">Yes</div>
<div class="t" style="top:535.2px;font-size:9.5px;line-height:14px;color:#495057;left:462.7px;transform:translateX(-50%);">No</div>
<div class="t" style="top:535.2px;font-size:9.5px;line-height:14px;color:#d6101c;font-weight:700;left:588.5px;transform:translateX(-50%);letter-spacing:-.5px;">Yes</div>
<div class="t" style="top:535.2px;font-size:9.5px;line-height:14px;color:#d6101c;font-weight:700;left:717px;transform:translateX(-50%);letter-spacing:-.5px;">Yes</div>
<div class="t" style="top:535.2px;font-size:9.5px;line-height:14px;color:#495057;left:843.5px;transform:translateX(-50%);">No</div>
<svg class="abs" style="left:948px;top:539.5px" width="40" height="10" viewBox="0 0 40 10"><circle cx="5.100" cy="5" r="4.900" fill="#2160e8"/><rect x="4.400" y="2.200" width="1.400" height="3.700" rx=".6" fill="#fff"/><circle cx="5.100" cy="7.400" r=".85" fill="#fff"/><circle cx="19.800" cy="5" r="4.900" fill="#2160e8"/><path d="M17.500 5.100l1.600 1.600 3-3.200" fill="none" stroke="#fff" stroke-width="1.200"/><circle cx="34.500" cy="5" r="4.900" fill="#2160e8"/><path d="M32.200 3.300h4.600v.9h-4.600zM32.700 4.700h3.600l-.35 3.100h-2.900z" fill="#fff"/><rect x="33.600" y="2.400" width="1.800" height=".8" fill="#fff"/></svg>
<div class="abs" style="left:44px;top:570px;width:986px;height:40px;background:#f4f8fb"></div>
<div class="abs" style="left:44px;top:570px;width:986px;height:1px;background:#e3e7eb"></div>
<div class="t" style="top:581.6px;font-size:9.3px;line-height:14px;color:#3d4b5c;font-weight:700;left:125.6px;transform:translateX(-50%);letter-spacing:-.27px;">jess@cyberducks.com</div>
<div class="t" style="top:581.6px;font-size:9.5px;line-height:14px;color:#1a8a1a;font-weight:700;left:242.5px;transform:translateX(-50%);letter-spacing:-.6px;">Success</div>
<div class="t" style="top:581.6px;font-size:9.5px;line-height:14px;color:#1a8a1a;font-weight:700;left:339.1px;transform:translateX(-50%);letter-spacing:-.5px;">Yes</div>
<div class="t" style="top:581.6px;font-size:9.5px;line-height:14px;color:#495057;left:462.7px;transform:translateX(-50%);">No</div>
<div class="t" style="top:581.6px;font-size:9.5px;line-height:14px;color:#d6101c;font-weight:700;left:588.5px;transform:translateX(-50%);letter-spacing:-.5px;">Yes</div>
<div class="t" style="top:581.6px;font-size:9.5px;line-height:14px;color:#d6101c;font-weight:700;left:717px;transform:translateX(-50%);letter-spacing:-.5px;">Yes</div>
<div class="t" style="top:581.6px;font-size:9.5px;line-height:14px;color:#495057;left:843.5px;transform:translateX(-50%);">No</div>
<svg class="abs" style="left:948px;top:585.5px" width="40" height="10" viewBox="0 0 40 10"><circle cx="5.100" cy="5" r="4.900" fill="#2160e8"/><rect x="4.400" y="2.200" width="1.400" height="3.700" rx=".6" fill="#fff"/><circle cx="5.100" cy="7.400" r=".85" fill="#fff"/><circle cx="19.800" cy="5" r="4.900" fill="#2160e8"/><path d="M17.500 5.100l1.600 1.600 3-3.200" fill="none" stroke="#fff" stroke-width="1.200"/><circle cx="34.500" cy="5" r="4.900" fill="#2160e8"/><path d="M32.200 3.300h4.600v.9h-4.600zM32.700 4.700h3.600l-.35 3.100h-2.900z" fill="#fff"/><rect x="33.600" y="2.400" width="1.800" height=".8" fill="#fff"/></svg>
</div>
</body>
</html>
